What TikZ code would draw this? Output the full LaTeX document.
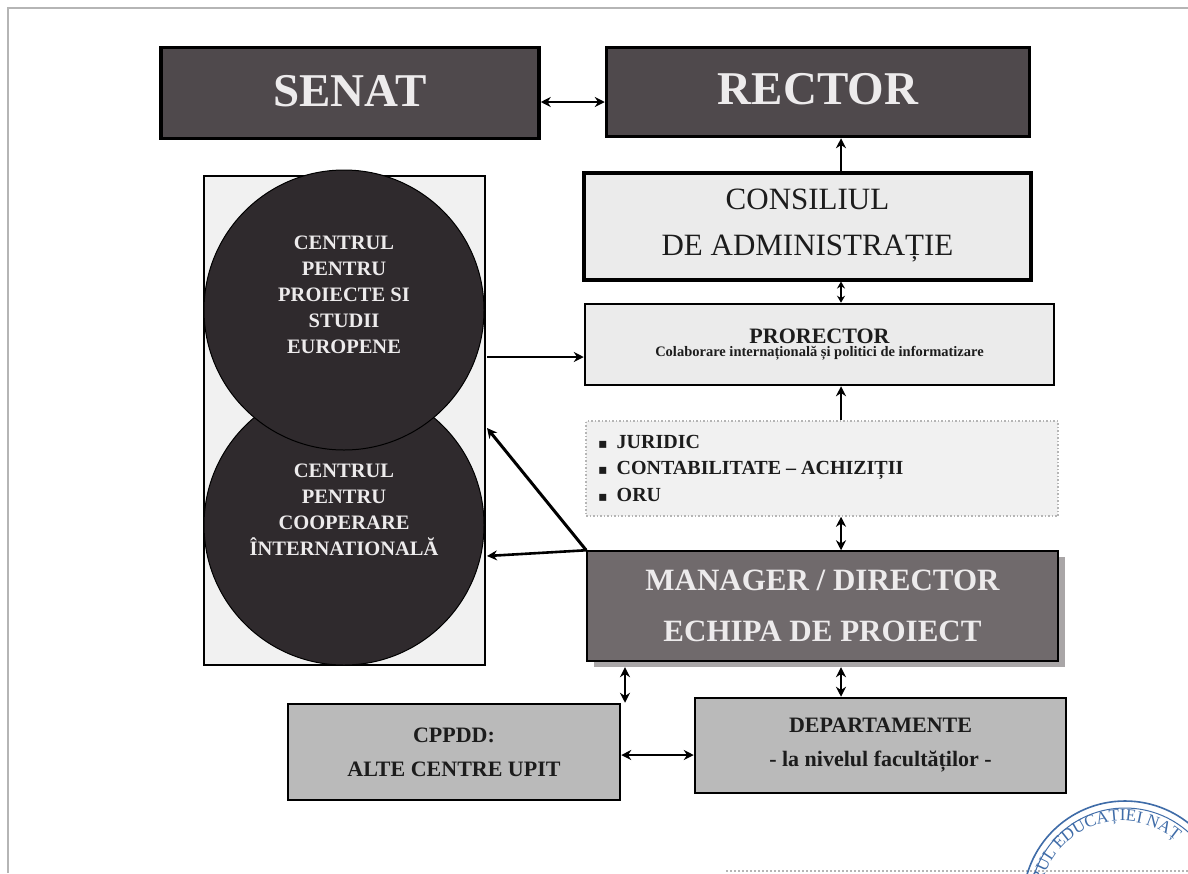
\documentclass[tikz,border=0pt]{standalone}
\usepackage{fontspec}
\setmainfont{Liberation Serif}
\newfontfamily\bulletfont{DejaVu Sans}
\usetikzlibrary{arrows.meta,decorations.text}
\definecolor{darkbox}{HTML}{4F494C}
\definecolor{circlefill}{HTML}{2F2A2D}
\definecolor{midbox}{HTML}{706A6C}
\definecolor{lightbox}{HTML}{EBEBEB}
\definecolor{palebox}{HTML}{F1F1F1}
\definecolor{greybox}{HTML}{BABABA}
\definecolor{shadowgrey}{HTML}{A9A6A7}
\definecolor{pagerule}{HTML}{B5B5B5}
\definecolor{stampblue}{HTML}{3F6CA8}
\definecolor{inktext}{HTML}{1C1C1C}
\definecolor{paletext}{HTML}{EDEBEC}
\tikzset{
  x=1pt,y=-1pt,
  boxbase/.style={rectangle,inner sep=0pt,align=center,text=inktext},
  darkpanel/.style={boxbase,fill=darkbox,draw=black,line width=3.5pt,text=paletext,font=\bfseries\fontsize{47}{50}\selectfont},
  lightpanel/.style={boxbase,fill=lightbox,draw=black},
  greypanel/.style={boxbase,fill=greybox,draw=black,line width=2.5pt,font=\bfseries\fontsize{22}{34}\selectfont},
  disc/.style={circle,fill=circlefill,draw=black,line width=1pt,inner sep=0pt,minimum size=280pt},
  disclabel/.style={align=center,inner sep=0pt,text=paletext,font=\bfseries\fontsize{20.5}{26}\selectfont},
  link/.style={draw=black,line width=2.6pt,-{Stealth[length=10pt,width=10pt]}},
  biglink/.style={draw=black,line width=2.6pt,{Stealth[length=10pt,width=10pt]}-{Stealth[length=10pt,width=10pt]}},
  pageedge/.style={draw=pagerule,line width=2pt}
}
\begin{document}
\begin{tikzpicture}
\path[use as bounding box,fill=white] (0,0) rectangle (1188,873);
\draw[pageedge] (8,873) -- (8,8) -- (1188,8);
\draw[pagerule,line width=2pt,dotted] (726,871) -- (1188,871);

% stamp
\begin{scope}
\clip (0,0) rectangle (1188,873);
\draw[stampblue,line width=1.6pt] (1125,903) circle[radius=102];
\draw[stampblue,line width=1pt] (1125,903) circle[radius=95];
\path[decorate,decoration={text along path,text align=center,
  text={|\fontsize{17}{17}\selectfont\color{stampblue}|TERUL EDUCAȚIEI NAȚ}}]
  (1040,903) arc[start angle=180,end angle=50,radius=82,x radius=82,y radius=-82];
\end{scope}

% left panel
\node[boxbase,draw=black,line width=2pt,fill=palebox,minimum width=281pt,minimum height=489pt] (frame) at (344.5,420.5) {};
\node[disc] (cooperare) at (344,525) {};
\node[disc] (europene) at (344,310) {};
\node[disclabel] (europeneText) at (344,295) {CENTRUL\\PENTRU\\PROIECTE SI\\STUDII\\EUROPENE};
\node[disclabel] (cooperareText) at (344,510) {CENTRUL\\PENTRU\\COOPERARE\\ÎNTERNATIONALĂ};

% top row
\node[darkpanel,minimum width=378pt,minimum height=91pt] (senat) at (350,93) {\raisebox{5pt}{SENAT}};
\node[darkpanel,minimum width=423pt,minimum height=89pt] (rector) at (818,92) {\raisebox{6pt}{RECTOR}};

% right column
\node[lightpanel,line width=4pt,minimum width=447pt,minimum height=107pt,font=\fontsize{31}{46}\selectfont] (consiliu) at (807.5,226) {CONSILIUL\\DE ADMINISTRAȚIE};
\node[lightpanel,line width=2.5pt,minimum width=469pt,minimum height=81pt] (prorector) at (819.5,344.5)
  {{\bfseries\fontsize{22}{26}\selectfont PRORECTOR}\\[1pt]{\bfseries\fontsize{14.5}{18}\selectfont Colaborare internațională și politici de informatizare}};
\node[boxbase,fill=palebox,draw=pagerule,dotted,line width=1.5pt,minimum width=472pt,minimum height=95pt] (juridic) at (822,468.5) {};
\node[anchor=west,inner sep=0pt,align=left,text=inktext,font=\bfseries\fontsize{20}{26.5}\selectfont] (juridicText) at (598,468)
  {{\bulletfont\fontsize{14}{14}\selectfont ▪}\hspace{9pt}JURIDIC\\{\bulletfont\fontsize{14}{14}\selectfont ▪}\hspace{9pt}CONTABILITATE – ACHIZIȚII\\{\bulletfont\fontsize{14}{14}\selectfont ▪}\hspace{9pt}ORU};
\node[boxbase,fill=shadowgrey,minimum width=471pt,minimum height=110pt] (managerShadow) at (829,612) {};
\node[boxbase,fill=midbox,draw=black,line width=1.5pt,text=paletext,minimum width=471pt,minimum height=110pt,font=\bfseries\fontsize{31}{51}\selectfont] (manager) at (822.5,606) {MANAGER / DIRECTOR\\ECHIPA DE PROIECT};

% bottom row
\node[greypanel,minimum width=332pt,minimum height=96pt] (cppdd) at (454,752) {CPPDD:\\ALTE CENTRE UPIT};
\node[greypanel,minimum width=371pt,minimum height=95pt] (departamente) at (880.5,745.5) {DEPARTAMENTE\\- la nivelul facultăților -};

% connector guides
\coordinate (axis) at (841,0);
\coordinate (axisLow) at (625,0);
\coordinate (leftEnd) at (487,357);
\coordinate (diagEnd) at (487,428);
\coordinate (horizEnd) at (487,556);
\coordinate (topRow) at (0,102);
\coordinate (bottomRow) at (0,755);
\coordinate (prorectorRow) at (0,357);

% connectors
\draw[biglink] (senat.east |- topRow) -- (rector.west |- topRow);
\draw[link] (consiliu.north -| axis) -- (rector.south -| axis);
\draw[biglink,line width=2pt,{Stealth[length=7pt,width=8pt]}-{Stealth[length=7pt,width=8pt]}] (consiliu.south -| axis) -- (prorector.north -| axis);
\draw[link,line width=2pt] (leftEnd) -- (prorector.west |- prorectorRow);
\draw[link] (juridic.north -| axis) -- (prorector.south -| axis);
\draw[biglink] (manager.north -| axis) -- (juridic.south -| axis);
\draw[link,line width=3pt] (manager.north west) -- (diagEnd);
\draw[link] (manager.north west) -- (horizEnd);
\draw[biglink] (managerShadow.south -| axisLow) -- (cppdd.north -| axisLow);
\draw[biglink] (managerShadow.south -| axis) -- (departamente.north -| axis);
\draw[biglink] (cppdd.east |- bottomRow) -- (departamente.west |- bottomRow);
\end{tikzpicture}
\end{document}
